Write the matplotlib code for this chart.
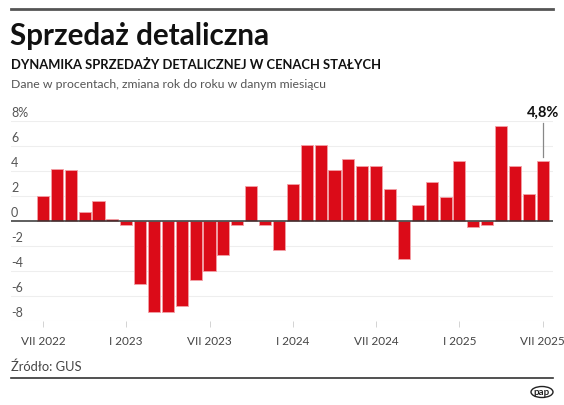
import numpy as np
import matplotlib.pyplot as plt
from matplotlib.patches import Ellipse

# --- data ---
values = [2.0, 4.2, 4.1, 0.7, 1.6, 0.2,
          -0.3, -5.0, -7.3, -7.3, -6.8, -4.7, -4.0, -2.7, -0.3, 2.8, -0.3, -2.3,
          3.0, 6.1, 6.1, 4.1, 5.0, 4.4, 4.4, 2.6, -3.0, 1.3, 3.1, 1.9,
          4.8, -0.5, -0.3, 7.6, 4.4, 2.2, 4.8]
tick_pos = [0, 6, 12, 18, 24, 30, 36]
tick_labels = ["VII 2022", "I 2023", "VII 2023", "I 2024", "VII 2024", "I 2025", "VII 2025"]
y_ticks = [8, 6, 4, 2, 0, -2, -4, -6, -8]
y_labels = ["8%", "6", "4", "2", "0", "-2", "-4", "-6", "-8"]
last_label = "4,8%"

W, H = 564, 406
FONT = "Lato"
plt.rcParams['font.family'] = [FONT, 'DejaVu Sans']

fig = plt.figure(figsize=(W / 100, H / 100), dpi=100)

def fx(px):
    return px / W

def fy(py):
    return 1 - py / H

# axes: x from 11 to 553 px, y from 122 (8) to 322 (-8)
ax = fig.add_axes([fx(11), fy(322), fx(553) - fx(11), fy(122) - fy(322)])
x = np.arange(len(values))
ax.bar(x, values, width=0.87, color="#db0b18", edgecolor="#f3a0a6", linewidth=0.6, zorder=3)
ax.set_xlim(-2.3, 36.74)
ax.set_ylim(-8, 8)

for v in y_ticks:
    if v == 0:
        ax.axhline(0, color="#333333", linewidth=1.1, zorder=4)
    else:
        ax.axhline(v, color="#eeeeee", linewidth=0.8, zorder=1)
for v, lab in zip(y_ticks, y_labels):
    ax.text(0.0, v + 0.25, lab, transform=ax.get_yaxis_transform(), ha="left", va="bottom",
            fontsize=9, color="#555555")

for s in ax.spines.values():
    s.set_visible(False)
ax.set_yticks([])
ax.set_xticks(tick_pos)
ax.set_xticklabels(tick_labels, fontsize=8.5, color="#444444")
ax.tick_params(axis="x", length=4, width=0.6, color="#cccccc", pad=6)

# annotation for the last value
ax.plot([36, 36], [values[-1] + 0.3, 7.8], color="#888888", linewidth=0.9, zorder=5,
        clip_on=False)
ax.text(36, 8.7, last_label, ha="center", va="center", fontsize=10.5, fontweight="bold",
        color="#111111", clip_on=False)

# header
fig.add_artist(plt.Line2D([fx(11), fx(553)], [fy(10), fy(10)], color="#555555", linewidth=2))
fig.text(fx(10), fy(36), "Sprzedaż detaliczna", fontsize=21.3, fontweight="bold",
         color="#111111", ha="left", va="center")
fig.text(fx(11), fy(65), "DYNAMIKA SPRZEDAŻY DETALICZNEJ W CENACH STAŁYCH", fontsize=9.35,
         fontweight="bold", color="#111111", ha="left", va="center")
fig.text(fx(11), fy(84), "Dane w procentach, zmiana rok do roku w danym miesiącu", fontsize=8.8,
         color="#555555", ha="left", va="center")

# footer
fig.text(fx(11), fy(367), "Źródło: GUS", fontsize=9.3, color="#444444", ha="left", va="center")
fig.add_artist(plt.Line2D([fx(11), fx(553)], [fy(379), fy(379)], color="#333333", linewidth=1.2))
fig.add_artist(Ellipse((fx(542), fy(393)), fx(22), 11 / H, facecolor="white",
                       edgecolor="#222222", linewidth=1.0, transform=fig.transFigure))
fig.text(fx(542), fy(393), "pap", fontsize=7, fontweight="bold", color="#222222",
         ha="center", va="center")

fig.savefig("out.png", dpi=100)
